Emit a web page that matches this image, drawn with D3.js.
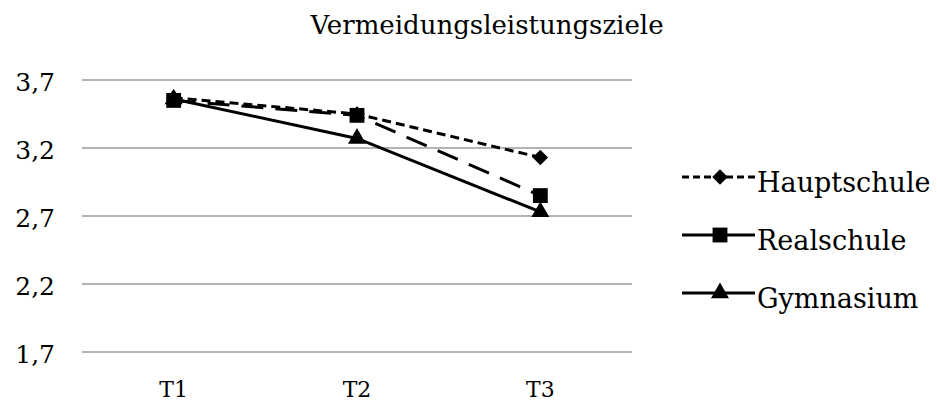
<!DOCTYPE html>
<html>
<head>
<meta charset="utf-8">
<script src="https://cdn.jsdelivr.net/npm/d3@7"></script>
<style>
  html, body { margin: 0; padding: 0; background: #fff; }
  text { font-family: "DejaVu Serif", serif; fill: #000; }
</style>
</head>
<body>
<svg id="chart" width="937" height="403"></svg>
<script>
// Measurement points
const categories = ["T1", "T2", "T3"];
const hauptschule = [3.57, 3.45, 3.13];
const realschule = [3.55, 3.44, 2.85];
const gymnasium = [3.56, 3.27, 2.73];
const yTicks = [1.7, 2.2, 2.7, 3.2, 3.7];
const seriesNames = ["Hauptschule", "Realschule", "Gymnasium"];

// Diamond drawn as a square turned by 45 degrees
const symbolRhomb = {
  draw(ctx, size) {
    const r = Math.sqrt(size / 2);
    ctx.moveTo(0, -r); ctx.lineTo(r, 0); ctx.lineTo(0, r); ctx.lineTo(-r, 0); ctx.closePath();
  }
};

const series = [
  { name: seriesNames[0], values: hauptschule, dash: "9,5", legendDash: "7,4", symbol: symbolRhomb, symSize: 120 },
  { name: seriesNames[1], values: realschule, dash: "22,12", legendDash: null, symbol: d3.symbolSquare, symSize: 220 },
  { name: seriesNames[2], values: gymnasium, dash: null, legendDash: null, symbol: d3.symbolTriangle, symSize: 140 }
];

const svg = d3.select("#chart");
const plot = { left: 82, right: 632, top: 80, bottom: 352 };

const x = d3.scaleBand().domain(categories).range([plot.left, plot.right]);
const y = d3.scaleLinear().domain([1.7, 3.7]).range([plot.bottom, plot.top]);
const fmt = d => d.toFixed(1).replace(".", ",");

// Title
svg.append("text")
  .attr("x", 487).attr("y", 34)
  .attr("text-anchor", "middle")
  .style("font-size", "26px")
  .text("Vermeidungsleistungsziele");

// Horizontal gridlines
svg.append("g").selectAll("line").data(yTicks).join("line")
  .attr("x1", plot.left).attr("x2", plot.right)
  .attr("y1", d => y(d)).attr("y2", d => y(d))
  .attr("stroke", "#9a9a9a").attr("stroke-width", 1.5);

// Y axis labels
const yAxis = d3.axisLeft(y).tickValues(yTicks).tickFormat(fmt).tickSize(0).tickPadding(27);
const yg = svg.append("g").attr("transform", `translate(${plot.left},0)`).call(yAxis);
yg.select(".domain").remove();
yg.selectAll("text").style("font-size", "25px").attr("dy", "0.42em");

// X axis labels
const xAxis = d3.axisBottom(x).tickSize(0).tickPadding(0);
const xg = svg.append("g").attr("transform", `translate(0,${plot.bottom})`).call(xAxis);
xg.select(".domain").remove();
xg.selectAll("text").style("font-size", "22px").attr("y", 45).attr("dy", null);

const cx = d => x(d) + x.bandwidth() / 2;
const line = d3.line().x((d, i) => cx(categories[i])).y(d => y(d));

// Series lines and markers (drawn bottom-up so the dashed series sits on top)
const order = [2, 1, 0];
order.forEach(k => {
  const s = series[k];
  const g = svg.append("g");
  g.append("path")
    .attr("d", line(s.values))
    .attr("fill", "none")
    .attr("stroke", "#000")
    .attr("stroke-width", 3)
    .attr("stroke-dasharray", s.dash);
  g.selectAll("path.m").data(s.values).join("path")
    .attr("class", "m")
    .attr("transform", (d, i) => `translate(${cx(categories[i])},${y(d)})`)
    .attr("d", d3.symbol(s.symbol, s.symSize)());
});

// Legend
const legendY = [177, 235, 293];
series.forEach((s, i) => {
  const g = svg.append("g").attr("transform", `translate(0,${legendY[i]})`);
  g.append("line")
    .attr("x1", 682).attr("x2", 755)
    .attr("stroke", "#000").attr("stroke-width", 3)
    .attr("stroke-dasharray", s.legendDash);
  g.append("path")
    .attr("transform", "translate(720,0)")
    .attr("d", d3.symbol(s.symbol, s.symSize)());
  g.append("text")
    .attr("x", 757).attr("y", 15)
    .style("font-size", "27px")
    .text(s.name);
});
</script>
</body>
</html>
